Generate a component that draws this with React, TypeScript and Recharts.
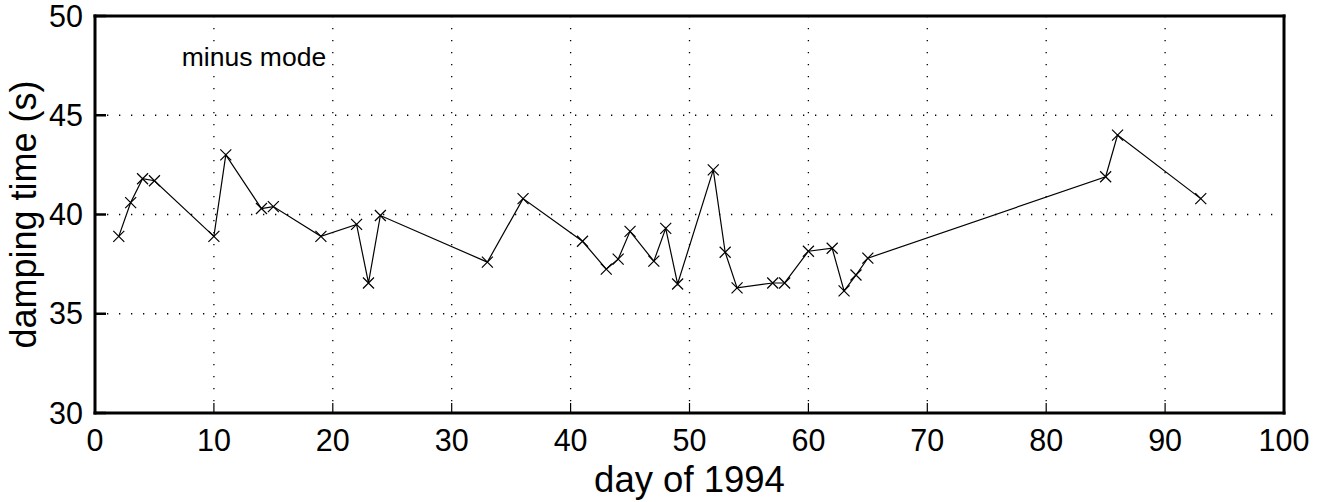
import React from 'react';
import { LineChart, Line, XAxis, YAxis, CartesianGrid, ReferenceDot } from 'recharts';

// day of 1994 and damping time (s), minus mode
const days = [2, 3, 4, 5, 10, 11, 14, 15, 19, 22, 23, 24, 33, 36, 41, 43, 44, 45, 47, 48, 49, 52, 53, 54, 57, 58, 60, 62, 63, 64, 65, 85, 86, 93];
const damping = [38.9, 40.6, 41.8, 41.7, 38.9, 43.0, 40.3, 40.4, 38.9, 39.5, 36.55, 39.95, 37.6, 40.8, 38.65, 37.25, 37.75, 39.15, 37.65, 39.3, 36.5, 42.25, 38.1, 36.3, 36.55, 36.55, 38.15, 38.3, 36.15, 36.95, 37.8, 41.9, 44.0, 40.8];

const xTicks = [0, 10, 20, 30, 40, 50, 60, 70, 80, 90, 100];
const yTicks = [30, 35, 40, 45, 50];

const data = days.map((d, i) => ({ day: d, value: damping[i] }));

const FONT = '"Liberation Sans", Arial, Helvetica, sans-serif';
const frame = { stroke: '#000', strokeWidth: 3, strokeLinecap: 'square' as const };

const XTick = ({ x, y, payload }: any) => (
  <text x={x} y={y} textAnchor="middle" fontSize={30.5} fontFamily={FONT} fill="#000">
    {payload.value}
  </text>
);

const YTick = ({ x, y, payload }: any) => (
  <text x={x} y={y} dy={10.5} textAnchor="end" fontSize={30.5} fontFamily={FONT} fill="#000">
    {payload.value}
  </text>
);

const Cross = ({ cx, cy }: any) => {
  if (cx == null || cy == null) return null;
  const s = 5.5;
  return (
    <path
      d={`M${cx - s},${cy - s}L${cx + s},${cy + s}M${cx - s},${cy + s}L${cx + s},${cy - s}`}
      stroke="#000"
      strokeWidth={1.2}
      fill="none"
    />
  );
};

export default function App() {
  return (
    <div style={{ position: 'absolute', left: 0, top: 0, background: '#fff' }}>
      <LineChart width={1326} height={502} data={data} margin={{ top: 16, right: 42, bottom: 29, left: 15 }}>
        <CartesianGrid stroke="#000" strokeWidth={1.3} strokeDasharray="1.3 10.7" />
        <XAxis
          dataKey="day"
          type="number"
          domain={[0, 100]}
          ticks={xTicks}
          height={60}
          tickSize={-10}
          tickMargin={48}
          tick={<XTick />}
          tickLine={{ stroke: '#000', strokeWidth: 1.2 }}
          axisLine={frame}
          label={{ value: 'day of 1994', content: ({ viewBox }: any) => (
            <text x={viewBox.x + viewBox.width / 2} y={492} textAnchor="middle" fontSize={36.5} fontFamily={FONT} fill="#000">
              day of 1994
            </text>
          ) }}
        />
        <XAxis
          xAxisId="top"
          orientation="top"
          dataKey="day"
          type="number"
          domain={[0, 100]}
          ticks={xTicks}
          height={1}
          mirror
          tickSize={11}
          tick={false}
          tickLine={{ stroke: '#000', strokeWidth: 2.5 }}
          axisLine={frame}
        />
        <YAxis
          type="number"
          domain={[30, 50]}
          ticks={yTicks}
          width={80}
          tickSize={-11}
          tickMargin={23}
          tick={<YTick />}
          tickLine={{ stroke: '#000', strokeWidth: 2.5 }}
          axisLine={frame}
          label={{ value: 'damping time (s)', content: ({ viewBox }: any) => {
            const cy = viewBox.y + viewBox.height / 2;
            return (
              <text x={36} y={cy} transform={`rotate(-90, 36, ${cy})`} textAnchor="middle" fontSize={36} fontFamily={FONT} fill="#000">
                damping time (s)
              </text>
            );
          } }}
        />
        <YAxis
          yAxisId="right"
          orientation="right"
          type="number"
          domain={[30, 50]}
          ticks={yTicks}
          width={1}
          mirror
          tickSize={11}
          tick={false}
          tickLine={{ stroke: '#000', strokeWidth: 2.5 }}
          axisLine={frame}
        />
        {/* invisible copy so the top and right frame axes get drawn */}
        <Line
          xAxisId="top"
          yAxisId="right"
          dataKey="value"
          stroke="none"
          dot={false}
          activeDot={false}
          legendType="none"
          isAnimationActive={false}
        />
        <Line
          dataKey="value"
          stroke="#000"
          strokeWidth={1.2}
          dot={<Cross />}
          activeDot={false}
          isAnimationActive={false}
        />
        <ReferenceDot
          x={7.3}
          y={47.5}
          r={0}
          shape={(p: any) => (
            <text x={p.cx} y={p.cy} fontSize={26.5} fontFamily={FONT} fill="#000">
              minus mode
            </text>
          )}
        />
      </LineChart>
    </div>
  );
}
